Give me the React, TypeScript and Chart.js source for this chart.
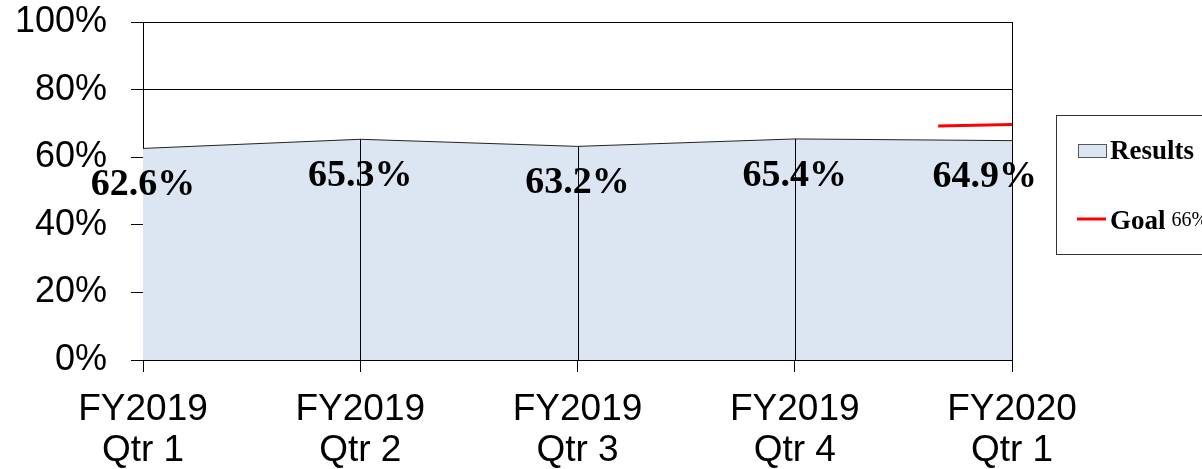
import React, { useEffect, useRef } from "react";
import { Chart, registerables } from "chart.js";

Chart.register(...registerables);

const categories: string[][] = [
  ["FY2019", "Qtr 1"],
  ["FY2019", "Qtr 2"],
  ["FY2019", "Qtr 3"],
  ["FY2019", "Qtr 4"],
  ["FY2020", "Qtr 1"],
];
const results: number[] = [62.6, 65.3, 63.2, 65.4, 64.9];
const goalX: number[] = [3.66, 4];
const goalY: number[] = [69.2, 69.7];
const yTicks: number[] = [0, 20, 40, 60, 80, 100];
const legendLabels = { results: "Results", goal: "Goal", goalNote: "66%" };

const FILL = "#dce6f2";

const dropLinePlugin = {
  id: "dropLines",
  afterDatasetsDraw(chart: any) {
    const meta = chart.getDatasetMeta(0);
    const ctx = chart.ctx;
    const area = chart.chartArea;
    ctx.save();
    ctx.strokeStyle = "#000";
    ctx.lineWidth = 1;
    meta.data.forEach((pt: any, i: number) => {
      if (i === 0 || i === meta.data.length - 1) return;
      const x = Math.round(pt.x) + 0.5;
      ctx.beginPath();
      ctx.moveTo(x, pt.y);
      ctx.lineTo(x, area.bottom);
      ctx.stroke();
    });
    ctx.restore();
  },
};

const dataLabelPlugin = {
  id: "dataLabels",
  afterDatasetsDraw(chart: any) {
    const meta = chart.getDatasetMeta(0);
    const ctx = chart.ctx;
    const area = chart.chartArea;
    ctx.save();
    ctx.font = "bold 38px 'Liberation Serif', 'Times New Roman', serif";
    ctx.fillStyle = "#000";
    ctx.textAlign = "center";
    ctx.textBaseline = "middle";
    meta.data.forEach((pt: any, i: number) => {
      const text = results[i].toFixed(1) + "%";
      const w = ctx.measureText(text).width;
      let x = pt.x;
      const maxRight = area.right + 25;
      if (x + w / 2 > maxRight) x = maxRight - w / 2;
      ctx.fillText(text, x, pt.y + 37);
    });
    ctx.restore();
  },
};

const legendPlugin = {
  id: "customLegend",
  afterDraw(chart: any) {
    const ctx = chart.ctx;
    const area = chart.chartArea;
    const left = area.right + 44;
    const top = area.top + 93;
    ctx.save();
    ctx.strokeStyle = "#333";
    ctx.lineWidth = 1;
    ctx.strokeRect(left + 0.5, top + 0.5, 200, 139);
    ctx.fillStyle = FILL;
    ctx.fillRect(left + 22, top + 29, 28, 13);
    ctx.strokeStyle = "#555";
    ctx.strokeRect(left + 22.5, top + 29.5, 28, 13);
    ctx.fillStyle = "#000";
    ctx.font = "bold 27px 'Liberation Serif', 'Times New Roman', serif";
    ctx.textAlign = "left";
    ctx.textBaseline = "alphabetic";
    ctx.fillText(legendLabels.results, left + 54, top + 44);
    ctx.strokeStyle = "#ff0000";
    ctx.lineWidth = 3;
    ctx.beginPath();
    ctx.moveTo(left + 21, top + 104);
    ctx.lineTo(left + 50, top + 104);
    ctx.stroke();
    ctx.fillText(legendLabels.goal, left + 54, top + 114);
    const gw = ctx.measureText(legendLabels.goal).width;
    ctx.font = "20px 'Liberation Serif', 'Times New Roman', serif";
    ctx.fillText(legendLabels.goalNote, left + 54 + gw + 6, top + 111);
    ctx.restore();
  },
};

export default function App() {
  const ref = useRef<HTMLCanvasElement | null>(null);
  useEffect(() => {
    document.body.style.margin = "0";
    const canvas = ref.current!;
    const lastIdx = categories.length - 1;
    const chart = new Chart(canvas, {
      type: "line",
      data: {
        datasets: [
          {
            label: legendLabels.results,
            data: results.map((v, i) => ({ x: i, y: v })),
            backgroundColor: FILL,
            borderColor: "#222",
            borderWidth: 1,
            fill: "origin",
            pointRadius: 0,
            tension: 0,
            order: 2,
          },
          {
            label: legendLabels.goal,
            data: goalX.map((x, i) => ({ x, y: goalY[i] })),
            borderColor: "#ff0000",
            borderWidth: 3,
            fill: false,
            pointRadius: 0,
            order: 1,
          },
        ],
      },
      options: {
        responsive: false,
        animation: false,
        layout: { padding: { top: 22, right: 190, left: 0, bottom: 0 } },
        plugins: { legend: { display: false }, tooltip: { enabled: false } },
        scales: {
          x: {
            type: "linear",
            min: 0,
            max: lastIdx,
            z: 1,
            afterFit(scale: any) {
              scale.height = 109;
            },
            afterBuildTicks(scale: any) {
              scale.ticks = categories.map((_, i) => ({ value: i }));
            },
            grid: {
              color: (c: any) =>
                c.index === 0 || c.index === lastIdx ? "#000" : "rgba(0,0,0,0)",
              tickColor: "#000",
              lineWidth: 1,
              tickLength: 12,
              drawTicks: true,
            },
            border: { color: "#000", width: 1 },
            ticks: {
              color: "#000",
              font: { family: "'Liberation Sans', Arial, sans-serif", size: 37, lineHeight: 1.12 },
              padding: 17,
              maxRotation: 0,
              autoSkip: false,
              callback: (v: any) => categories[Math.round(Number(v))] ?? "",
            },
          },
          y: {
            min: 0,
            max: 100,
            afterFit(scale: any) {
              scale.width = 143;
              scale.paddingTop = 0;
              scale.paddingBottom = 0;
            },
            afterBuildTicks(scale: any) {
              scale.ticks = yTicks.map((v) => ({ value: v }));
            },
            grid: { color: "#000", lineWidth: 1, tickLength: 12 },
            border: { color: "#000", width: 1 },
            ticks: {
              color: "#000",
              font: { family: "'Liberation Sans', Arial, sans-serif", size: 36 },
              padding: 24,
              callback: (v: any) => v + "%",
            },
          },
        },
      },
      plugins: [dropLinePlugin, dataLabelPlugin, legendPlugin],
    });
    return () => chart.destroy();
  }, []);
  return (
    <div style={{ position: "fixed", left: 0, top: 0, width: 1202, height: 469, background: "#fff" }}>
      <canvas ref={ref} width={1202} height={469} style={{ display: "block" }} />
    </div>
  );
}
